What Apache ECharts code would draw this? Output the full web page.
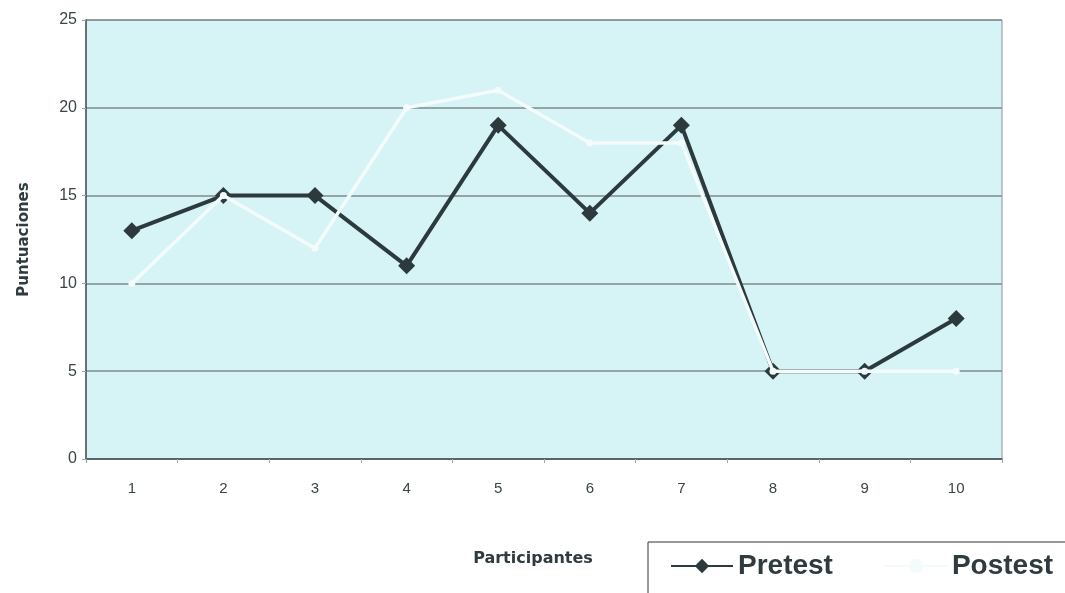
<!DOCTYPE html>
<html>
<head>
<meta charset="utf-8">
<script src="https://cdn.jsdelivr.net/npm/echarts@6/dist/echarts.min.js"></script>
<style>
html,body{margin:0;padding:0;background:#fff;}
#chart{width:1065px;height:593px;}
</style>
</head>
<body>
<div id="chart"></div>
<script>
const categories = ['1','2','3','4','5','6','7','8','9','10'];
const pretest = [13, 15, 15, 11, 19, 14, 19, 5, 5, 8];
const postest = [10, 15, 12, 20, 21, 18, 18, 5, 5, 5];
const seriesNames = ['Pretest', 'Postest'];
const yTitle = 'Puntuaciones';
const xTitle = 'Participantes';

const chart = echarts.init(document.getElementById('chart'), null, {renderer: 'canvas'});
const font = 'Liberation Sans, Arial, sans-serif';
const titleFont = 'DejaVu Sans, Liberation Sans, sans-serif';
chart.setOption({
  animation: false,
  backgroundColor: '#ffffff',
  grid: {
    left: 86, right: 63, top: 20, bottom: 134,
    show: true,
    backgroundColor: '#d6f3f6',
    borderColor: '#8a9598',
    borderWidth: 1
  },
  legend: {
    left: 670, top: 552,
    itemWidth: 62, itemHeight: 18,
    itemGap: 51,
    padding: 0,
    textStyle: {fontFamily: font, fontSize: 28, fontWeight: 'bold', color: '#2f3b3e'},
    data: [
      {name: seriesNames[0]},
      {name: seriesNames[1]}
    ]
  },
  graphic: [{
    type: 'rect',
    shape: {x: 648, y: 542, width: 500, height: 100},
    style: {fill: 'none', stroke: '#333', lineWidth: 1},
    silent: true
  }],
  xAxis: {
    type: 'category',
    data: categories,
    boundaryGap: true,
    name: xTitle,
    nameLocation: 'middle',
    nameGap: 92,
    nameTextStyle: {fontFamily: titleFont, fontSize: 16, fontWeight: 'bold', color: '#2f3b3e', padding: [0, 22, 0, 0]},
    axisLine: {lineStyle: {color: '#4a5558', width: 1.5}},
    axisTick: {show: true, alignWithLabel: false, length: 4, lineStyle: {color: '#9aa'}},
    axisLabel: {fontFamily: font, fontSize: 15, color: '#3a4548', margin: 22},
    splitLine: {show: false}
  },
  yAxis: {
    type: 'value',
    min: 0, max: 25, interval: 5,
    name: yTitle,
    nameLocation: 'middle',
    nameGap: 54,
    nameTextStyle: {fontFamily: titleFont, fontSize: 15, fontWeight: 'bold', color: '#2f3b3e'},
    axisLine: {show: true, lineStyle: {color: '#4a5558', width: 1.5}},
    axisTick: {show: true, length: 4, lineStyle: {color: '#9aa'}},
    axisLabel: {fontFamily: font, fontSize: 16, color: '#3a4548', margin: 9},
    splitLine: {show: true, lineStyle: {color: '#7f8a8c', width: 1.5}}
  },
  series: [
    {
      name: seriesNames[0],
      type: 'line',
      data: pretest,
      symbol: 'diamond',
      symbolSize: 17,
      itemStyle: {color: '#2c3a3d'},
      lineStyle: {color: '#2c3a3d', width: 4},
      z: 2
    },
    {
      name: seriesNames[1],
      type: 'line',
      data: postest,
      symbol: 'circle',
      symbolSize: 7,
      showSymbol: true,
      itemStyle: {color: '#f4fbfb'},
      lineStyle: {color: '#f4fbfb', width: 3.5},
      z: 3
    }
  ]
});
</script>
</body>
</html>
